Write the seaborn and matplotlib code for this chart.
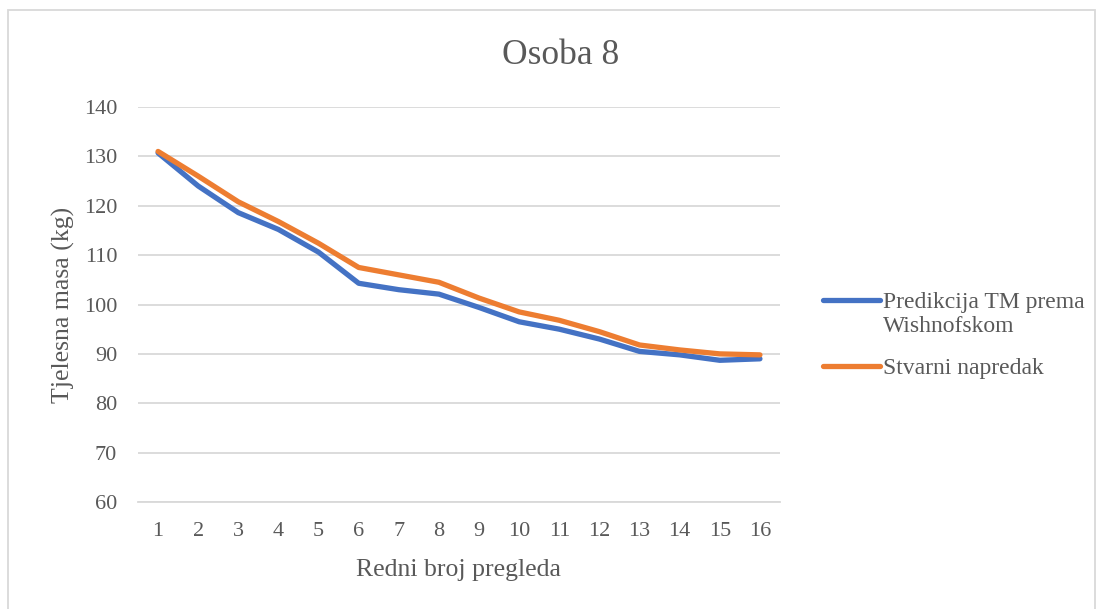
import matplotlib
matplotlib.use("Agg")
import matplotlib.pyplot as plt
import seaborn as sns
import pandas as pd
from matplotlib.patches import Rectangle
from matplotlib.legend_handler import HandlerLine2D

pregledi = list(range(1, 17))
predikcija = [130.7, 124.0, 118.6, 115.2, 110.6, 104.3, 103.0, 102.1, 99.4, 96.5, 95.0, 93.0, 90.5, 89.8, 88.7, 89.0]
stvarni = [131.0, 126.0, 120.8, 116.8, 112.4, 107.5, 106.0, 104.5, 101.3, 98.5, 96.8, 94.5, 91.8, 90.8, 90.0, 89.8]
serije = ["Predikcija TM prema\nWishnofskom", "Stvarni napredak"]
y_ticks = [60, 70, 80, 90, 100, 110, 120, 130, 140]

df = pd.DataFrame({
    "Pregled": pregledi * 2,
    "Masa": predikcija + stvarni,
    "Serija": [serije[0]] * len(pregledi) + [serije[1]] * len(pregledi),
})

sns.set_theme(style="white")
plt.rcParams["font.family"] = ["Liberation Serif", "DejaVu Serif"]

TXT = "#595959"
LW = 3.8
W, H = 1103, 609
fig = plt.figure(figsize=(W / 100, H / 100), dpi=100)
ax = fig.add_axes([138 / W, 1 - 502 / H, (780 - 138) / W, (502 - 107) / H])

sns.lineplot(data=df, x="Pregled", y="Masa", hue="Serija",
             palette=["#4472C4", "#ED7D31"], linewidth=LW, ax=ax, legend=False)

ax.set_xlim(0.5, 16.5)
ax.set_ylim(60, 140)
ax.set_yticks(y_ticks)
ax.set_xticks(pregledi)
ax.yaxis.grid(True, color="#D9D9D9", linewidth=1.3)
ax.set_axisbelow(True)
for s in ["top", "right", "left"]:
    ax.spines[s].set_visible(False)
ax.spines["bottom"].set_color("#D9D9D9")
ax.spines["bottom"].set_linewidth(1.3)
ax.tick_params(axis="both", length=0, labelsize=16, labelcolor=TXT)
ax.tick_params(axis="x", pad=14.5)
ax.tick_params(axis="y", pad=15)

ax.set_xlabel("Redni broj pregleda", fontsize=18.5, color=TXT, labelpad=13)
ax.set_ylabel("Tjelesna masa (kg)", fontsize=18.5, color=TXT, labelpad=6.5)

fig.text(561 / W, 1 - 56 / H, "Osoba 8", fontsize=25.5, color=TXT,
         ha="center", va="center")


class TopLineHandler(HandlerLine2D):
    def __init__(self, shift, **kw):
        super().__init__(**kw)
        self.shift = shift

    def create_artists(self, legend, orig_handle, xdescent, ydescent,
                       width, height, fontsize, trans):
        arts = super().create_artists(legend, orig_handle, xdescent, ydescent,
                                      width, height, fontsize, trans)
        for a in arts:
            yd = a.get_ydata()
            a.set_ydata([y + self.shift * fontsize for y in yd])
        return arts


handles = [plt.Line2D([], [], color="#4472C4", linewidth=LW),
           plt.Line2D([], [], color="#ED7D31", linewidth=LW)]
fig.legend(handles, serije, loc="center left", bbox_to_anchor=(814 / W, 1 - 335.5 / H),
           frameon=False, fontsize=17, labelcolor=TXT, borderaxespad=0,
           handlelength=2.4, handletextpad=0.12, labelspacing=0.85,
           handler_map={handles[0]: TopLineHandler(0.6)})

fig.patches.append(Rectangle((8 / W, -0.05), (1095 - 8) / W, 1 + 0.05 - 10 / H,
                             transform=fig.transFigure, fill=False,
                             edgecolor="#D9D9D9", linewidth=1.3))

fig.savefig("out.png", dpi=100, facecolor="white")
